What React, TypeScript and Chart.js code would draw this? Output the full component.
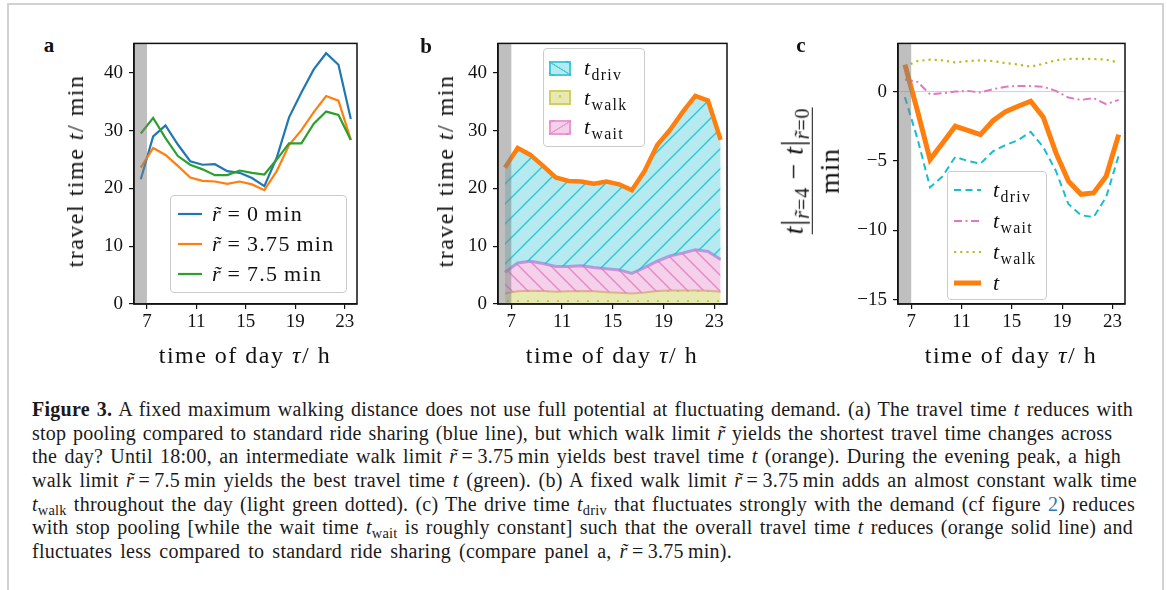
import React, { useEffect, useRef } from "react";
import { Chart, registerables } from "chart.js";
Chart.register(...registerables);

const SERIF = "'Liberation Serif', 'Times New Roman', serif";

// ---------------- data ----------------
const hours = [6.5, 7.5, 8.5, 9.5, 10.5, 11.5, 12.5, 13.5, 14.5, 15.5, 16.5, 17.5, 18.5, 19.5, 20.5, 21.5, 22.5, 23.5];
const hourTicks = [7, 11, 15, 19, 23];
const travelTicks = [0, 10, 20, 30, 40];
const diffTicks = [-15, -10, -5, 0];
const nightEnd = 7;

// panel a: travel time for walk limits 0, 3.75, 7.5 min
const travelR0 = [21.6, 29.0, 30.9, 27.6, 24.7, 24.1, 24.2, 23.0, 22.7, 21.8, 20.4, 25.3, 32.3, 36.6, 40.6, 43.4, 41.4, 32.0];
const travelR375 = [23.6, 27.0, 25.8, 23.9, 21.9, 21.3, 21.2, 20.8, 21.2, 20.7, 19.7, 23.0, 27.5, 30.1, 33.2, 36.0, 35.2, 28.4];
const travelR75 = [29.5, 32.2, 28.7, 25.6, 24.1, 23.3, 22.3, 22.3, 23.1, 22.7, 22.4, 25.0, 27.8, 27.8, 31.2, 33.3, 32.7, 28.4];

// panel b: components of travel time (r = 3.75 min)
const walkB = [1.8, 2.2, 2.3, 2.25, 2.1, 2.2, 2.25, 2.2, 2.05, 1.95, 1.8, 2.0, 2.25, 2.35, 2.35, 2.35, 2.3, 2.1];
const waitB = [3.7, 4.9, 5.1, 4.75, 4.4, 4.3, 4.35, 4.1, 4.05, 3.95, 3.5, 4.3, 5.15, 5.95, 6.45, 7.05, 6.8, 5.6];
const drivB = [18.1, 19.9, 18.4, 16.9, 15.4, 14.8, 14.6, 14.5, 15.1, 14.8, 14.4, 16.7, 20.1, 21.8, 24.4, 26.6, 26.1, 20.7];

// panel c: differences r=4 minus r=0
const diffDriv = [-0.4, -3.4, -6.9, -6.1, -4.7, -5.0, -5.2, -4.3, -3.85, -3.5, -2.9, -4.0, -5.7, -8.1, -8.9, -9.05, -7.6, -4.6];
const diffWait = [0.87, 0.7, -0.2, -0.12, 0.0, 0.05, -0.07, 0.17, 0.35, 0.4, 0.4, 0.35, 0.05, -0.43, -0.6, -0.47, -0.9, -0.6];
const diffWalk = [1.8, 2.2, 2.3, 2.25, 2.1, 2.2, 2.25, 2.2, 2.05, 1.95, 1.8, 2.0, 2.25, 2.35, 2.35, 2.35, 2.3, 2.1];
const diffTotal = [1.94, -1.4, -4.9, -3.7, -2.5, -2.8, -3.1, -2.1, -1.44, -1.06, -0.7, -1.84, -4.4, -6.45, -7.4, -7.3, -6.1, -3.1];

// ---------------- colours ----------------
const BLUE = "#1f77b4";
const ORANGE = "#ff7f0e";
const GREEN = "#2ca02c";
const CYAN = "#17becf";
const PINK = "#e377c2";
const OLIVE = "#bcbd22";

// ---------------- geometry ----------------
const PLOT_TOP = 38;
const PLOT_H = 266;
const AXIS_W = 75;
const PAD_T = 12;
const PAD_R = 14;
const AXIS_H = 40;
const X_RANGE = [5.95, 24.0];

const pts = (arr: number[]) => hours.map((h, i) => ({ x: h, y: arr[i] }));

const bandPlugin = {
  id: "band",
  afterDatasetsDraw(chart: any) {
    const { ctx, chartArea: a, scales } = chart;
    const x1 = scales.x.getPixelForValue(nightEnd);
    ctx.save();
    ctx.fillStyle = "rgba(128,128,128,0.5)";
    ctx.fillRect(a.left, a.top, x1 - a.left, a.bottom - a.top);
    ctx.restore();
  },
};

const framePlugin = {
  id: "frame",
  afterDraw(chart: any) {
    const { ctx, chartArea: a } = chart;
    ctx.save();
    ctx.strokeStyle = "#111";
    ctx.lineWidth = 1.5;
    ctx.strokeRect(a.left, a.top, a.right - a.left, a.bottom - a.top);
    ctx.restore();
  },
};

const zeroPlugin = {
  id: "zero",
  beforeDatasetsDraw(chart: any) {
    const { ctx, chartArea: a, scales } = chart;
    const y = scales.y.getPixelForValue(0);
    ctx.save();
    ctx.strokeStyle = "#d0d0d0";
    ctx.lineWidth = 1;
    ctx.beginPath();
    ctx.moveTo(a.left, y);
    ctx.lineTo(a.right, y);
    ctx.stroke();
    ctx.restore();
  },
};

function baseOptions(yMin: number, yMax: number, yTicks: number[]): any {
  const tickFont = { family: SERIF, size: 19 };
  return {
    responsive: false,
    animation: false,
    devicePixelRatio: 1,
    events: [],
    layout: { padding: { left: 0, top: PAD_T, right: PAD_R, bottom: 0 } },
    plugins: { legend: { display: false }, tooltip: { enabled: false } },
    elements: { point: { radius: 0 }, line: { tension: 0 } },
    scales: {
      x: {
        type: "linear",
        min: X_RANGE[0],
        max: X_RANGE[1],
        afterBuildTicks: (ax: any) => {
          ax.ticks = hourTicks.map((v) => ({ value: v }));
        },
        afterFit: (s: any) => {
          s.height = AXIS_H;
        },
        grid: { drawOnChartArea: false, drawTicks: true, tickLength: 5, color: "#111", lineWidth: 1.2 },
        border: { display: true, color: "#111", width: 1.5 },
        ticks: { font: tickFont, color: "#111", padding: 2, maxRotation: 0, autoSkip: false, callback: (v: any) => String(v) },
      },
      y: {
        type: "linear",
        min: yMin,
        max: yMax,
        afterBuildTicks: (ax: any) => {
          ax.ticks = yTicks.map((v) => ({ value: v }));
        },
        afterFit: (s: any) => {
          s.width = AXIS_W;
        },
        grid: { drawOnChartArea: false, drawTicks: true, tickLength: 5, color: "#111", lineWidth: 1.2 },
        border: { display: true, color: "#111", width: 1.5 },
        ticks: {
          font: tickFont,
          color: "#111",
          padding: 6,
          autoSkip: false,
          callback: (v: any) => (v < 0 ? "\u2212" + Math.abs(v) : String(v)),
        },
      },
    },
  };
}

function makePattern(target: HTMLCanvasElement, fill: string, stroke: string, size: number, kind: string) {
  const c = document.createElement("canvas");
  c.width = size;
  c.height = size;
  const g = c.getContext("2d")!;
  g.fillStyle = fill;
  g.fillRect(0, 0, size, size);
  g.strokeStyle = stroke;
  g.fillStyle = stroke;
  g.lineWidth = 1.4;
  g.beginPath();
  if (kind === "up") {
    g.moveTo(0, size);
    g.lineTo(size, 0);
    g.moveTo(-2, 2);
    g.lineTo(2, -2);
    g.moveTo(size - 2, size + 2);
    g.lineTo(size + 2, size - 2);
    g.stroke();
  } else if (kind === "down") {
    g.moveTo(0, 0);
    g.lineTo(size, size);
    g.moveTo(-2, size - 2);
    g.lineTo(2, size + 2);
    g.moveTo(size - 2, -2);
    g.lineTo(size + 2, 2);
    g.stroke();
  } else {
    g.arc(size / 2, size / 2, 1.1, 0, Math.PI * 2);
    g.fill();
  }
  return target.getContext("2d")!.createPattern(c, "repeat");
}

function configA(): any {
  return {
    type: "line",
    data: {
      datasets: [
        { data: pts(travelR75), borderColor: GREEN, borderWidth: 2.2, fill: false },
        { data: pts(travelR375), borderColor: ORANGE, borderWidth: 2.2, fill: false },
        { data: pts(travelR0), borderColor: BLUE, borderWidth: 2.2, fill: false },
      ],
    },
    options: baseOptions(0, 45.1, travelTicks),
    plugins: [bandPlugin, framePlugin],
  };
}

function configB(canvas: HTMLCanvasElement): any {
  const cumWalk = walkB.map((v) => v);
  const cumWait = walkB.map((v, i) => v + waitB[i]);
  const cumTotal = walkB.map((v, i) => v + waitB[i] + drivB[i]);
  return {
    type: "line",
    data: {
      datasets: [
        {
          data: pts(cumTotal),
          borderColor: ORANGE,
          borderWidth: 4.5,
          fill: 1,
          backgroundColor: makePattern(canvas, "rgba(23,190,207,0.32)", "rgba(23,190,207,0.85)", 20, "up"),
        },
        {
          data: pts(cumWait),
          borderColor: "rgba(200,120,215,0.75)",
          borderWidth: 3,
          fill: 2,
          backgroundColor: makePattern(canvas, "rgba(227,119,194,0.35)", "rgba(227,119,194,0.8)", 16, "down"),
        },
        {
          data: pts(cumWalk),
          borderColor: "rgba(200,160,60,0.6)",
          borderWidth: 2,
          fill: "origin",
          backgroundColor: makePattern(canvas, "rgba(188,189,34,0.35)", "rgba(188,189,34,0.9)", 10, "dot"),
        },
      ],
    },
    options: baseOptions(0, 45.1, travelTicks),
    plugins: [bandPlugin, framePlugin],
  };
}

function configC(): any {
  return {
    type: "line",
    data: {
      datasets: [
        { data: pts(diffTotal), borderColor: ORANGE, borderWidth: 5, fill: false },
        { data: pts(diffDriv), borderColor: CYAN, borderWidth: 2, borderDash: [7, 4.5], fill: false },
        { data: pts(diffWait), borderColor: PINK, borderWidth: 2, borderDash: [8, 3.5, 2, 3.5], fill: false },
        { data: pts(diffWalk), borderColor: OLIVE, borderWidth: 2.2, borderDash: [2.2, 4], fill: false },
      ],
    },
    options: baseOptions(-15.3, 3.47, diffTicks),
    plugins: [zeroPlugin, bandPlugin, framePlugin],
  };
}

function ChartCanvas({ plotLeft, plotWidth, build }: { plotLeft: number; plotWidth: number; build: (c: HTMLCanvasElement) => any }) {
  const ref = useRef<HTMLCanvasElement>(null);
  const w = AXIS_W + plotWidth + PAD_R;
  const h = PAD_T + PLOT_H + AXIS_H;
  useEffect(() => {
    const canvas = ref.current!;
    const chart = new Chart(canvas, build(canvas));
    return () => chart.destroy();
  }, []);
  return (
    <canvas
      ref={ref}
      width={w}
      height={h}
      style={{ position: "absolute", left: plotLeft - AXIS_W, top: PLOT_TOP - PAD_T, width: w, height: h }}
    />
  );
}

// ---------------- text helpers ----------------
const R = () => <i>r{"\u0303"}</i>;
const Sub = ({ children }: { children: any }) => (
  <sub style={{ fontSize: "0.72em", verticalAlign: "-0.3em", lineHeight: 0 }}>{children}</sub>
);

function At({ x, y, rotate, size, children, style }: any) {
  return (
    <div
      style={{
        position: "absolute",
        left: x,
        top: y,
        transform: `translate(-50%,-50%)${rotate ? " rotate(-90deg)" : ""}`,
        whiteSpace: "nowrap",
        fontSize: size,
        lineHeight: 1,
        ...style,
      }}
    >
      {children}
    </div>
  );
}

function LineSample({ color, width, dash, w }: any) {
  return (
    <svg width={w} height={14} style={{ display: "block" }}>
      <line x1={0} y1={7} x2={w} y2={7} stroke={color} strokeWidth={width} strokeDasharray={dash} />
    </svg>
  );
}

function Swatch({ bg, border, kind }: any) {
  let image = "none";
  if (kind === "up") image = `linear-gradient(to top right, transparent 46%, ${border} 48%, ${border} 53%, transparent 55%)`;
  if (kind === "down") image = `linear-gradient(to bottom right, transparent 46%, ${border} 48%, ${border} 53%, transparent 55%)`;
  if (kind === "dot") image = `radial-gradient(circle at 50% 40%, ${border} 1.3px, transparent 1.6px)`;
  return (
    <div
      style={{
        width: 22,
        height: 15,
        boxSizing: "border-box",
        border: `2px solid ${border}`,
        backgroundColor: bg,
        backgroundImage: image,
      }}
    />
  );
}

const legendBox: any = {
  position: "absolute",
  border: "1px solid #cccccc",
  borderRadius: 4,
  background: "rgba(255,255,255,0.85)",
  boxSizing: "border-box",
};

const AX_FONT = 24;
const AX_SPACING = "1.5px";

export default function App() {
  const captionEnds = [1133, 1107, 1121, 1137, 1135, 1133];
  const capLines = [
    <>
      <b>Figure 3.</b> A fixed maximum walking distance does not use full potential at fluctuating demand. (a) The travel time <i>t</i> reduces with
    </>,
    <>
      stop pooling compared to standard ride sharing (blue line), but which walk limit <R /> yields the shortest travel time changes across
    </>,
    <>
      the day? Until 18:00, an intermediate walk limit <R />{"\u2009=\u20093.75\u2009min"} yields best travel time <i>t</i> (orange). During the evening peak, a high
    </>,
    <>
      walk limit <R />{"\u2009=\u20097.5\u2009min"} yields the best travel time <i>t</i> (green). (b) A fixed walk limit <R />{"\u2009=\u20093.75\u2009min"} adds an almost constant walk time
    </>,
    <>
      <i>t</i>
      <Sub>walk</Sub> throughout the day (light green dotted). (c) The drive time <i>t</i>
      <Sub>driv</Sub> that fluctuates strongly with the demand (cf figure <span style={{ color: "#2a7ab8" }}>2</span>) reduces
    </>,
    <>
      with stop pooling [while the wait time <i>t</i>
      <Sub>wait</Sub> is roughly constant] such that the overall travel time <i>t</i> reduces (orange solid line) and
    </>,
    <>
      fluctuates less compared to standard ride sharing (compare panel a, <R />{"\u2009=\u20093.75\u2009min"}).
    </>,
  ];

  const axTitle = { fontFamily: SERIF, letterSpacing: AX_SPACING };
  const legendFont = { fontFamily: SERIF, fontSize: 22, letterSpacing: "1.3px", whiteSpace: "nowrap" as const, lineHeight: 1 };

  return (
    <div
      style={{
        position: "fixed",
        left: 0,
        top: 0,
        width: 1167,
        height: 590,
        background: "#fff",
        overflow: "hidden",
        fontFamily: SERIF,
        color: "#111",
      }}
    >
      <div
        style={{
          position: "absolute",
          left: 7,
          top: 3,
          width: 1157,
          height: 700,
          boxSizing: "border-box",
          borderTop: "2px solid #d2d2d2",
          borderLeft: "2px solid #d2d2d2",
          borderRight: "2px solid #d2d2d2",
        }}
      />

      <ChartCanvas plotLeft={134} plotWidth={223} build={() => configA()} />
      <ChartCanvas plotLeft={498} plotWidth={229} build={(c) => configB(c)} />
      <ChartCanvas plotLeft={898} plotWidth={227} build={() => configC()} />

      {/* panel letters */}
      <At x={49} y={45} size={21} style={{ fontWeight: "bold" }}>a</At>
      <At x={426} y={46} size={21} style={{ fontWeight: "bold" }}>b</At>
      <At x={801} y={45} size={21} style={{ fontWeight: "bold" }}>c</At>

      {/* axis titles */}
      <At x={75} y={171} rotate size={AX_FONT} style={axTitle}>
        travel time <i>t</i>/ min
      </At>
      <At x={445} y={171} rotate size={AX_FONT} style={axTitle}>
        travel time <i>t</i>/ min
      </At>
      <At x={245} y={355} size={AX_FONT} style={axTitle}>
        time of day <i>τ</i>/ h
      </At>
      <At x={612} y={355} size={AX_FONT} style={axTitle}>
        time of day <i>τ</i>/ h
      </At>
      <At x={1011} y={355} size={AX_FONT} style={axTitle}>
        time of day <i>τ</i>/ h
      </At>
      <At x={811} y={171} rotate size={28} style={{ fontFamily: SERIF, letterSpacing: "0.8px" }}>
        <div style={{ display: "inline-flex", flexDirection: "column", alignItems: "center" }}>
          <div style={{ whiteSpace: "nowrap", paddingBottom: 3 }}>
            <i>t</i>
            <span style={{ fontSize: "1.1em" }}>|</span>
            <Sub>
              <R />=4
            </Sub>
            {" \u2212 "}
            <i>t</i>
            <span style={{ fontSize: "1.1em" }}>|</span>
            <Sub>
              <R />=0
            </Sub>
          </div>
          <div style={{ alignSelf: "stretch", height: 1.6, background: "#111" }} />
          <div style={{ paddingTop: 3 }}>min</div>
        </div>
      </At>

      {/* legend a */}
      <div style={{ ...legendBox, left: 170, top: 195, width: 177, height: 98 }}>
        {[
          { c: BLUE, t: <><R />{"\u2009=\u20090\u2009min"}</> },
          { c: ORANGE, t: <><R />{"\u2009=\u20093.75\u2009min"}</> },
          { c: GREEN, t: <><R />{"\u2009=\u20097.5\u2009min"}</> },
        ].map((e, i) => (
          <div key={i} style={{ position: "absolute", left: 7, top: 3 + i * 30, height: 30, display: "flex", alignItems: "center" }}>
            <LineSample color={e.c} width={2.2} w={24} />
            <div style={{ ...legendFont, marginLeft: 10 }}>{e.t}</div>
          </div>
        ))}
      </div>

      {/* legend b */}
      <div style={{ ...legendBox, left: 543, top: 48, width: 102, height: 99 }}>
        {[
          { bg: "rgba(23,190,207,0.32)", b: "rgba(23,190,207,0.7)", k: "up", s: "driv" },
          { bg: "rgba(188,189,34,0.35)", b: "rgba(188,189,34,0.55)", k: "dot", s: "walk" },
          { bg: "rgba(227,119,194,0.35)", b: "rgba(227,119,194,0.6)", k: "down", s: "wait" },
        ].map((e, i) => (
          <div key={i} style={{ position: "absolute", left: 5, top: 4 + i * 29.5, height: 30, display: "flex", alignItems: "center" }}>
            <Swatch bg={e.bg} border={e.b} kind={e.k} />
            <div style={{ ...legendFont, marginLeft: 13 }}>
              <i>t</i>
              <Sub>{e.s}</Sub>
            </div>
          </div>
        ))}
      </div>

      {/* legend c */}
      <div style={{ ...legendBox, left: 947, top: 171, width: 100, height: 129 }}>
        {[
          { c: CYAN, w: 2, d: "7 4.5", s: "driv" },
          { c: PINK, w: 2, d: "8 3.5 2 3.5", s: "wait" },
          { c: OLIVE, w: 2.2, d: "2.2 4", s: "walk" },
          { c: ORANGE, w: 5, d: undefined, s: "" },
        ].map((e, i) => (
          <div key={i} style={{ position: "absolute", left: 6, top: 2 + i * 31, height: 31, display: "flex", alignItems: "center" }}>
            <LineSample color={e.c} width={e.w} dash={e.d} w={27} />
            <div style={{ ...legendFont, marginLeft: 12 }}>
              <i>t</i>
              {e.s ? <Sub>{e.s}</Sub> : null}
            </div>
          </div>
        ))}
      </div>

      {/* caption */}
      <div
        style={{
          position: "absolute",
          left: 32,
          top: 398,
          fontSize: 20,
          letterSpacing: "0.25px",
          wordSpacing: "1.5px",
          lineHeight: "23.7px",
          color: "#1a1a1a",
        }}
      >
        {capLines.map((l, i) => (
          <div
            key={i}
            style={{
              whiteSpace: "nowrap",
              height: 23.7,
              width: i < captionEnds.length ? captionEnds[i] - 32 : undefined,
              textAlign: i < captionEnds.length ? "justify" : "left",
              textAlignLast: i < captionEnds.length ? "justify" : "left",
              wordSpacing: i < captionEnds.length ? undefined : "2.8px",
            } as any}
          >
            {l}
          </div>
        ))}
      </div>
    </div>
  );
}
